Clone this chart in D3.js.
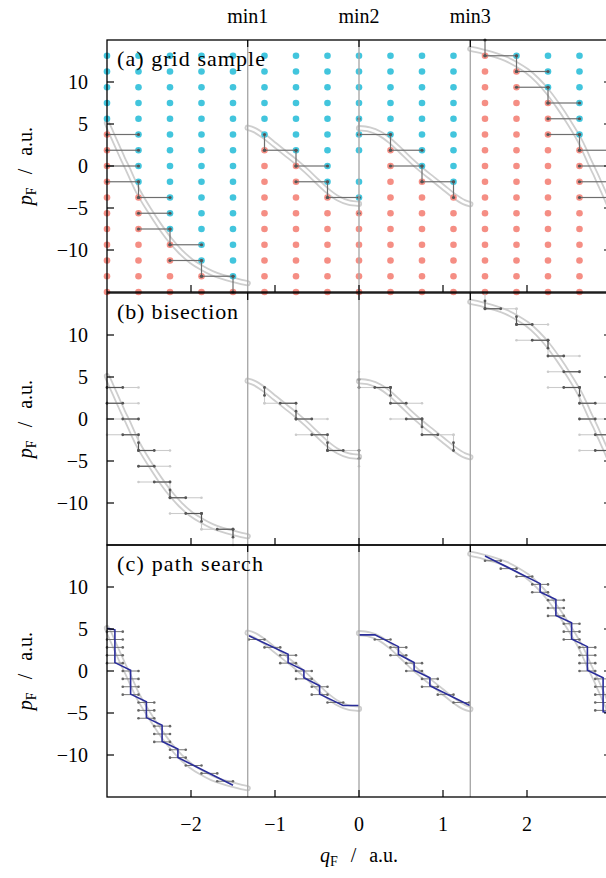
<!DOCTYPE html>
<html><head><meta charset="utf-8">
<script src="https://cdn.jsdelivr.net/npm/d3@7"></script>
<style>
body{margin:0;background:#fff;}
svg{display:block;font-family:"Liberation Serif","DejaVu Serif",serif;}
</style></head><body>
<svg id="chart" width="606" height="878"></svg>
<script>
// ---------------- data ----------------
const xTicks = [-2, -1, 0, 1, 2];
const yTicks = [-10, -5, 0, 5, 10];
const minLabels = ["min1", "min2", "min3"];
const minQ = [-1.325, 0, 1.325];
const panelLabels = ["(a) grid sample", "(b) bisection", "(c) path search"];

// sampling grid (16 x 16)
const gridQ = [-3, -2.625, -2.25, -1.875, -1.5, -1.125, -0.75, -0.375, 0, 0.375, 0.75, 1.125, 1.5, 1.875, 2.25, 2.625];
const gridP = [-15, -13.125, -11.25, -9.375, -7.5, -5.625, -3.75, -1.875, 0, 1.875, 3.75, 5.625, 7.5, 9.375, 11.25, 13.125];
// for each column: first row index whose point is classified "above" (cyan)
const cyanFromRow = [11, 7, 4, 2, 1, 10, 9, 7, 6, 10, 8, 7, 16, 15, 13, 10];
const missingPoints = [[8, 8]]; // [column, row] not sampled

// reference curve p_F(q_F), four branches
const branch1Q = [-3, -2.9375, -2.875, -2.8125, -2.75, -2.6875, -2.625, -2.5, -2.375, -2.25, -2.125, -2, -1.875, -1.75, -1.625, -1.5, -1.4, -1.325];
const branch1P = [5.1, 3.7, 2.3, 0.9, -0.4, -1.8, -3.1, -5.2, -7.1, -8.8, -10.2, -11.3, -12.1, -12.75, -13.2, -13.55, -13.8, -13.95];
const branch2Q = [-1.325, -1.25, -1.125, -1, -0.875, -0.75, -0.625, -0.5, -0.375, -0.25, -0.125, 0];
const branch2P = [4.55, 4.3, 3.5, 2.5, 1.5, 0.5, -0.6, -1.8, -2.95, -3.85, -4.35, -4.5];
const branch3Q = [0, 0.125, 0.25, 0.375, 0.5, 0.625, 0.75, 0.875, 1, 1.125, 1.25, 1.325];
const branch3P = [4.5, 4.35, 3.85, 2.95, 1.8, 0.6, -0.5, -1.5, -2.5, -3.5, -4.3, -4.55];
const branch4Q = [1.325, 1.4, 1.5, 1.625, 1.75, 1.875, 2, 2.125, 2.25, 2.375, 2.5, 2.625, 2.6875, 2.75, 2.8125, 2.875, 2.9375, 3];
const branch4P = [13.95, 13.8, 13.55, 13.2, 12.75, 12.1, 11.3, 10.2, 8.8, 7.1, 5.2, 3.1, 1.8, 0.4, -0.9, -2.3, -3.7, -5.1];

// grid edges with a sign change: [q start, p start, q end, p end, half holding the root (0 first / 1 second)]
const edges1 = [
  [-3, 3.75, -2.625, 3.75, 0], [-3, 1.875, -2.625, 1.875, 0], [-3, 0, -2.625, 0, 1], [-3, -1.875, -2.625, -1.875, 1],
  [-2.625, -1.875, -2.625, -3.75, 1], [-2.625, -3.75, -2.25, -3.75, 0], [-2.625, -5.625, -2.25, -5.625, 0],
  [-2.625, -7.5, -2.25, -7.5, 1], [-2.25, -7.5, -2.25, -9.375, 1], [-2.25, -9.375, -1.875, -9.375, 0],
  [-2.25, -11.25, -1.875, -11.25, 1], [-1.875, -11.25, -1.875, -13.125, 0], [-1.875, -13.125, -1.5, -13.125, 1],
  [-1.5, -13.125, -1.5, -15, 0]];
const edges2 = [
  [-1.125, 3.75, -1.125, 1.875, 0], [-1.125, 1.875, -0.75, 1.875, 1], [-0.75, 1.875, -0.75, 0, 1],
  [-0.75, 0, -0.375, 0, 0], [-0.75, -1.875, -0.375, -1.875, 1], [-0.375, -1.875, -0.375, -3.75, 1],
  [-0.375, -3.75, 0, -3.75, 0], [0, -3.75, 0, -5.625, 0]];
const edges3 = [
  [0, 5.625, 0, 3.75, 1], [0, 3.75, 0.375, 3.75, 1], [0.375, 3.75, 0.375, 1.875, 0],
  [0.375, 1.875, 0.75, 1.875, 0], [0.375, 0, 0.75, 0, 1], [0.75, 0, 0.75, -1.875, 0],
  [0.75, -1.875, 1.125, -1.875, 0], [1.125, -1.875, 1.125, -3.75, 1]];
const edges4 = [
  [1.5, 15, 1.5, 13.125, 1], [1.5, 13.125, 1.875, 13.125, 0], [1.875, 13.125, 1.875, 11.25, 1],
  [1.875, 11.25, 2.25, 11.25, 0], [1.875, 9.375, 2.25, 9.375, 1], [2.25, 9.375, 2.25, 7.5, 0],
  [2.25, 7.5, 2.625, 7.5, 0], [2.25, 5.625, 2.625, 5.625, 1], [2.25, 3.75, 2.625, 3.75, 1],
  [2.625, 3.75, 2.625, 1.875, 0], [2.625, 1.875, 3, 1.875, 0], [2.625, 0, 3, 0, 0],
  [2.625, -1.875, 3, -1.875, 1], [2.625, -3.75, 3, -3.75, 1]];

// path search: refined horizontal brackets [q left, p] (width one half grid step) and traced paths
const bars1 = [[-3, 4.6875], [-3, 3.75], [-3, 2.8125], [-3, 1.875], [-3, 0.9375],
  [-2.8125, 0], [-2.8125, -0.9375], [-2.8125, -1.875], [-2.8125, -2.8125],
  [-2.625, -3.75], [-2.625, -4.6875], [-2.625, -5.625], [-2.4375, -6.5625], [-2.4375, -7.5], [-2.4375, -8.4375],
  [-2.25, -9.375], [-2.25, -10.3125], [-2.0625, -11.25], [-1.875, -12.1875], [-1.6875, -13.125]];
const bars2 = [[-1.3125, 3.75], [-1.125, 2.8125], [-0.9375, 1.875], [-0.9375, 0.9375], [-0.75, 0], [-0.75, -0.9375],
  [-0.5625, -1.875], [-0.5625, -2.8125], [-0.375, -3.75]];
const bars3 = [[0.1875, 3.75], [0.375, 2.8125], [0.375, 1.875], [0.5625, 0.9375], [0.5625, 0], [0.75, -0.9375],
  [0.75, -1.875], [0.9375, -2.8125], [1.125, -3.75]];
const bars4 = [[1.5, 13.125], [1.6875, 12.1875], [1.875, 11.25], [2.0625, 10.3125], [2.0625, 9.375],
  [2.25, 8.4375], [2.25, 7.5], [2.25, 6.5625], [2.4375, 5.625], [2.4375, 4.6875], [2.4375, 3.75],
  [2.625, 2.8125], [2.625, 1.875], [2.625, 0.9375], [2.625, 0],
  [2.8125, -0.9375], [2.8125, -1.875], [2.8125, -2.8125], [2.8125, -3.75], [2.8125, -4.6875]];
const path1 = [[-3, 5.1], [-2.906, 4.9], [-2.906, 1.0], [-2.719, 0.1], [-2.719, -2.75], [-2.531, -3.65], [-2.531, -5.55],
  [-2.344, -6.45], [-2.344, -8.4], [-2.156, -9.3], [-2.156, -10.3], [-1.5, -13.6]];
const path2 = [[-1.31, 4.2], [-0.844, 2.0], [-0.844, 1.0], [-0.656, 0.1], [-0.656, -0.8], [-0.469, -1.75], [-0.469, -2.75],
  [-0.19, -4.1], [0, -4.1]];
const path3 = [[0, 4.3], [0.19, 4.3], [0.469, 2.9], [0.469, 2.0], [0.656, 1.0], [0.656, 0.1], [0.844, -0.8], [0.844, -1.75],
  [1.32, -4.1]];
const path4 = [[1.5, 13.7], [2.156, 10.4], [2.156, 9.4], [2.344, 8.5], [2.344, 6.6], [2.531, 5.75], [2.531, 3.8],
  [2.719, 2.9], [2.719, 0.1], [2.906, -0.8], [2.906, -4.85], [3, -5]];

// ---------------- drawing ----------------
const svg = d3.select("#chart");
const plotLeft = 107, plotRight = 611;
const panelTops = [40, 293, 545];
const panelH = 252;
const x = d3.scaleLinear().domain([-3, 3]).range([plotLeft, plotRight]);
const yScales = panelTops.map(t => d3.scaleLinear().domain([-15, 15]).range([t + panelH, t]));

const CYAN = "#42c5dd", SALMON = "#f58e84", DARK = "#555", LIGHT = "#cbcbcb", BLUE = "#2a2d9a";
const FS = 20;
const halfStep = 0.1875;

const branches = [[branch1Q, branch1P], [branch2Q, branch2P], [branch3Q, branch3P], [branch4Q, branch4P]];
const edges = [...edges1, ...edges2, ...edges3, ...edges4].map(e => ({q1: e[0], p1: e[1], q2: e[2], p2: e[3], half: e[4]}));
const bars = [...bars1, ...bars2, ...bars3, ...bars4];
const paths = [path1, path2, path3, path4];

function drawCurve(g, y) {
  const line = d3.line().x(d => x(d[0])).y(d => y(d[1])).curve(d3.curveCatmullRom);
  branches.forEach(([qs, ps]) => {
    const pts = qs.map((q, i) => [q, ps[i]]);
    g.append("path").attr("d", line(pts)).attr("fill", "none").attr("stroke", "#cecece")
      .attr("stroke-width", 6.2).attr("stroke-linecap", "round");
    g.append("path").attr("d", line(pts)).attr("fill", "none").attr("stroke", "#fff")
      .attr("stroke-width", 2.6).attr("stroke-linecap", "round");
  });
}

function axisLabel(sel, letter) {
  sel.append("tspan").attr("font-style", "italic").text(letter);
  sel.append("tspan").attr("font-size", 14).attr("dy", 4).text("F");
  sel.append("tspan").attr("dy", -4).attr("dx", 13).text("/");
  sel.append("tspan").attr("dx", 13).text("a.u.");
}

function drawFrame(pi) {
  const y = yScales[pi];
  const top = panelTops[pi], bot = top + panelH;
  const g = svg.append("g");
  g.append("rect").attr("x", plotLeft).attr("y", top).attr("width", plotRight - plotLeft).attr("height", panelH)
    .attr("fill", "none").attr("stroke", "#000").attr("stroke-width", 1.3);
  yTicks.forEach(t => {
    g.append("line").attr("x1", plotLeft).attr("x2", plotLeft + 7).attr("y1", y(t)).attr("y2", y(t)).attr("stroke", "#000").attr("stroke-width", 1.2);
    g.append("line").attr("x1", plotRight).attr("x2", plotRight - 7).attr("y1", y(t)).attr("y2", y(t)).attr("stroke", "#000").attr("stroke-width", 1.2);
    g.append("text").attr("x", 88).attr("y", y(t) + 7).attr("text-anchor", "end").attr("font-size", FS)
      .text(t < 0 ? "\u2212" + Math.abs(t) : String(t));
  });
  xTicks.forEach(t => {
    g.append("line").attr("x1", x(t)).attr("x2", x(t)).attr("y1", bot).attr("y2", bot - 7).attr("stroke", "#000").attr("stroke-width", 1.2);
  });
  minQ.forEach(t => {
    g.append("line").attr("x1", x(t)).attr("x2", x(t)).attr("y1", top).attr("y2", top + 7).attr("stroke", "#000").attr("stroke-width", 1.2);
  });
  const yl = g.append("text").attr("transform", `translate(32,${top + panelH / 2}) rotate(-90)`)
    .attr("text-anchor", "middle").attr("font-size", FS);
  axisLabel(yl, "p");
  g.append("text").attr("x", 117).attr("y", top + 26).attr("font-size", 22)
    .attr("textLength", [148, 121, 146][pi]).attr("lengthAdjust", "spacing").text(panelLabels[pi]);
}

function drawMinLines() {
  minQ.forEach(q => {
    svg.append("line").attr("x1", x(q)).attr("x2", x(q)).attr("y1", panelTops[0]).attr("y2", panelTops[2] + panelH)
      .attr("stroke", "#aaa").attr("stroke-width", 1.4);
  });
}

// ---- panel (a)
(function () {
  const y = yScales[0];
  const g = svg.append("g");
  drawCurve(g, y);
  const pts = [];
  gridQ.forEach((q, k) => gridP.forEach((p, j) => {
    if (missingPoints.some(m => m[0] === k && m[1] === j)) return;
    pts.push({q, p, c: j >= cyanFromRow[k] ? CYAN : SALMON});
  }));
  g.selectAll("circle.grid").data(pts).join("circle").attr("cx", d => x(d.q)).attr("cy", d => y(d.p))
    .attr("r", 3.3).attr("fill", d => d.c);
  g.selectAll("line.edge").data(edges).join("line").attr("x1", d => x(d.q1)).attr("y1", d => y(d.p1))
    .attr("x2", d => x(d.q2)).attr("y2", d => y(d.p2)).attr("stroke", "#6e6e6e").attr("stroke-width", 1.2);
  const ends = edges.flatMap(d => [[d.q1, d.p1], [d.q2, d.p2]]);
  g.selectAll("circle.end").data(ends).join("circle").attr("cx", d => x(d[0])).attr("cy", d => y(d[1]))
    .attr("r", 1.6).attr("fill", "#555");
})();

// ---- panel (b)
(function () {
  const y = yScales[1];
  const g = svg.append("g");
  drawCurve(g, y);
  g.selectAll("line.full").data(edges).join("line").attr("x1", d => x(d.q1)).attr("y1", d => y(d.p1))
    .attr("x2", d => x(d.q2)).attr("y2", d => y(d.p2)).attr("stroke", LIGHT).attr("stroke-width", 1.1);
  const ends = edges.flatMap(d => [[d.q1, d.p1], [d.q2, d.p2]]);
  g.selectAll("circle.lend").data(ends).join("circle").attr("cx", d => x(d[0])).attr("cy", d => y(d[1]))
    .attr("r", 1.3).attr("fill", LIGHT);
  const halves = edges.map(d => {
    const mq = (d.q1 + d.q2) / 2, mp = (d.p1 + d.p2) / 2;
    return d.half === 0 ? [d.q1, d.p1, mq, mp] : [mq, mp, d.q2, d.p2];
  });
  g.selectAll("line.half").data(halves).join("line").attr("x1", d => x(d[0])).attr("y1", d => y(d[1]))
    .attr("x2", d => x(d[2])).attr("y2", d => y(d[3])).attr("stroke", DARK).attr("stroke-width", 1.2);
  const hends = halves.flatMap(d => [[d[0], d[1]], [d[2], d[3]]]);
  g.selectAll("circle.hend").data(hends).join("circle").attr("cx", d => x(d[0])).attr("cy", d => y(d[1]))
    .attr("r", 1.4).attr("fill", DARK);
})();

// ---- panel (c)
(function () {
  const y = yScales[2];
  const g = svg.append("g");
  drawCurve(g, y);
  g.selectAll("line.bar").data(bars).join("line").attr("x1", d => x(d[0])).attr("x2", d => x(d[0] + halfStep))
    .attr("y1", d => y(d[1])).attr("y2", d => y(d[1])).attr("stroke", "#777").attr("stroke-width", 1);
  const bends = bars.flatMap(d => [[d[0], d[1]], [d[0] + halfStep, d[1]]]);
  g.selectAll("circle.bend").data(bends).join("circle").attr("cx", d => x(d[0])).attr("cy", d => y(d[1]))
    .attr("r", 1.3).attr("fill", "#666");
  const line = d3.line().x(d => x(d[0])).y(d => y(d[1]));
  paths.forEach(pth => g.append("path").attr("d", line(pth)).attr("fill", "none").attr("stroke", BLUE).attr("stroke-width", 1.6));
})();

drawMinLines();
[0, 1, 2].forEach(drawFrame);

minQ.forEach((q, i) => {
  svg.append("text").attr("x", x(q)).attr("y", 23).attr("text-anchor", "middle").attr("font-size", FS).text(minLabels[i]);
});
xTicks.forEach(t => {
  svg.append("text").attr("x", x(t)).attr("y", 831).attr("text-anchor", "middle").attr("font-size", FS)
    .text(t < 0 ? "\u2212" + Math.abs(t) : String(t));
});
const xl = svg.append("text").attr("x", x(0)).attr("y", 862).attr("text-anchor", "middle").attr("font-size", FS);
axisLabel(xl, "q");
</script>
</body></html>
